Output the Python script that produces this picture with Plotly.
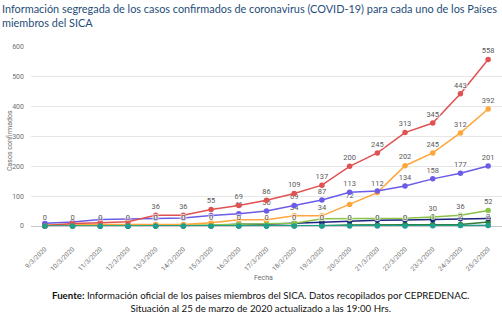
import plotly.graph_objects as go

fechas = ["9/3/2020", "10/3/2020", "11/3/2020", "12/3/2020", "13/3/2020", "14/3/2020",
          "15/3/2020", "16/3/2020", "17/3/2020", "18/3/2020", "19/3/2020", "20/3/2020",
          "21/3/2020", "22/3/2020", "23/3/2020", "24/3/2020", "25/3/2020"]

panama = [1, 8, 11, 14, 36, 36, 55, 69, 86, 109, 137, 200, 245, 313, 345, 443, 558]
rep_dominicana = [5, 5, 5, 5, 5, 5, 11, 21, 21, 34, 34, 72, 112, 202, 245, 312, 392]
costa_rica = [9, 13, 22, 23, 26, 27, 35, 41, 50, 69, 87, 113, 117, 134, 158, 177, 201]
honduras = [0, 0, 2, 2, 3, 3, 3, 6, 8, 9, 24, 24, 26, 26, 30, 36, 52]
guatemala = [0, 0, 0, 0, 1, 1, 2, 6, 6, 9, 12, 17, 19, 20, 21, 24, 25]
el_salvador = [0, 0, 0, 0, 0, 0, 0, 0, 0, 1, 1, 3, 3, 5, 5, 5, 13]
nicaragua = [0, 0, 0, 0, 0, 0, 0, 0, 0, 1, 1, 2, 2, 2, 2, 2, 2]
belice = [0, 0, 0, 0, 0, 0, 0, 0, 0, 0, 0, 0, 0, 0, 1, 2, 2]

# indices where data labels are visible (others hidden by overlap in the original)
lbl_panama = list(range(4, 17))
lbl_rd = list(range(9, 17))
lbl_cr = [7, 8, 9, 10, 11, 13, 14, 15, 16]
lbl_hn = [14, 15, 16]
lbl_bz = list(range(0, 17))

series = [
    ("Nicaragua", nicaragua, "#9fa8da", []),
    ("El Salvador", el_salvador, "#2e7d32", []),
    ("Guatemala", guatemala, "#1a237e", []),
    ("Honduras", honduras, "#8bc34a", lbl_hn),
    ("República Dominicana", rep_dominicana, "#ffa53a", lbl_rd),
    ("Costa Rica", costa_rica, "#6b5ce7", lbl_cr),
    ("Panamá", panama, "#e05252", lbl_panama),
    ("Belice", belice, "#1fa08e", lbl_bz),
]

x = list(range(len(fechas)))
fig = go.Figure()
for name, vals, col, lbl in series:
    txt = [str(v) if i in lbl else "" for i, v in enumerate(vals)]
    fig.add_trace(go.Scatter(
        x=x, y=vals, name=name, mode="lines+markers+text",
        line=dict(color=col, width=1.5),
        marker=dict(color=col, size=5.5),
        text=txt, textposition="top center",
        textfont=dict(family="Roboto", size=7.5, color="#5a5a5a",
                      shadow="1px 1px 1px white, -1px -1px 1px white, 1px -1px 1px white, -1px 1px 1px white"),
        cliponaxis=False, hoverinfo="skip",
    ))

fig.update_layout(
    width=502, height=324,
    margin=dict(l=31, r=0, t=47, b=98),
    paper_bgcolor="white", plot_bgcolor="white",
    showlegend=False,
    font=dict(family="Roboto", size=7, color="#6b6b6b"),
    xaxis=dict(
        range=[-0.5, 16.5], tickmode="array", tickvals=x, ticktext=fechas,
        tickangle=-45, showgrid=False, zeroline=False, showline=False,
        ticks="", ticklabelstandoff=17,
        tickfont=dict(family="Roboto", size=6.5, color="#707070"),
    ),
    yaxis=dict(
        range=[0, 600], dtick=100, showgrid=True, gridcolor="#e6e6e6", gridwidth=1,
        zeroline=True, zerolinecolor="#c8c8c8", zerolinewidth=1,
        showline=False, ticks="", ticklabelstandoff=6,
        tickfont=dict(family="Roboto", size=7, color="#707070"),
    ),
    annotations=[
        dict(text="Información segregada de los casos confirmados de coronavirus (COVID-19) para cada uno de los Países<br>miembros del SICA",
             xref="paper", yref="paper", x=-31/471, y=1 + 47/179, xanchor="left", yanchor="top",
             align="left", showarrow=False,
             font=dict(family="Lato", size=10.9, color="#1f4e79")),
        dict(text="Casos confirmados", textangle=-90, xref="paper", yref="paper",
             x=-21/471, y=(226 - 141) / 179, xanchor="center", yanchor="middle", showarrow=False,
             font=dict(family="Roboto", size=7, color="#707070")),
        dict(text="Fecha", xref="paper", yref="paper", x=(263 - 31) / 471, y=-(278 - 226) / 179,
             xanchor="center", yanchor="middle", showarrow=False,
             font=dict(family="Roboto", size=7, color="#707070")),
        dict(text="<b>Fuente:</b> Información oficial de los paises miembros del SICA. Datos recopilados por CEPREDENAC.<br>Situación al 25 de marzo de 2020 actualizado a las 19:00 Hrs.",
             xref="paper", yref="paper", x=(260 - 31) / 471, y=-(287 - 226) / 179,
             xanchor="center", yanchor="top", align="center", showarrow=False,
             font=dict(family="Lato", size=9.7, color="#111111")),
    ],
)

fig.write_html("out.html")
